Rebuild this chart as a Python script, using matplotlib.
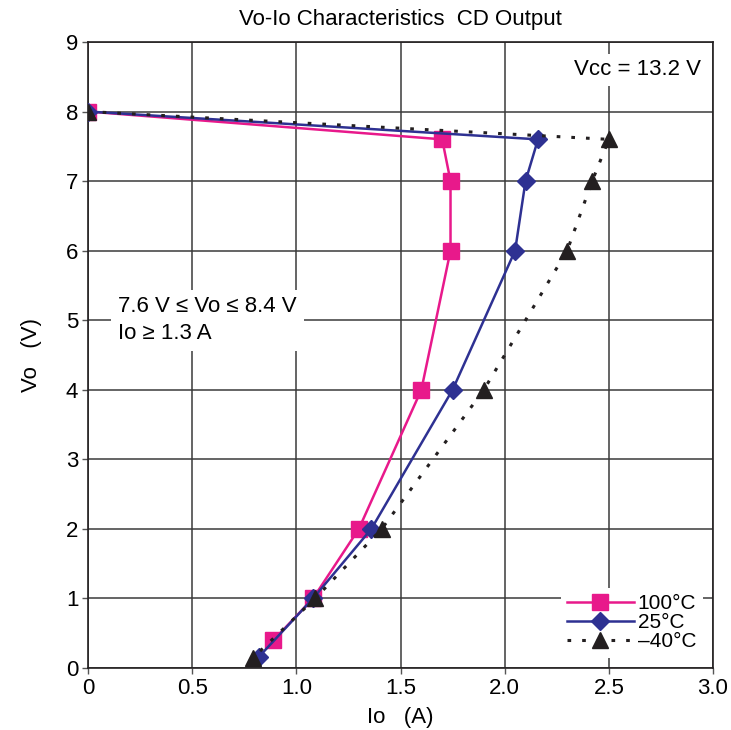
import matplotlib.pyplot as plt
import numpy as np

# Vo-Io data
io_100 = [0, 1.70, 1.74, 1.74, 1.60, 1.30, 1.08, 0.89]
vo_100 = [8, 7.6, 7, 6, 4, 2, 1, 0.4]

io_25 = [0, 2.16, 2.10, 2.05, 1.75, 1.36, 1.08, 0.82]
vo_25 = [8, 7.6, 7, 6, 4, 2, 1, 0.16]

io_m40 = [0, 2.50, 2.42, 2.30, 1.90, 1.41, 1.09, 0.79]
vo_m40 = [8, 7.6, 7, 6, 4, 2, 1, 0.14]

labels = ['100°C', '25°C', '\u201340°C']

pink = '#E8198B'
blue = '#2E3192'
black = '#231F20'

plt.rcParams['font.family'] = 'Liberation Sans'
fs = 16

fig = plt.figure(figsize=(7.31, 7.30), dpi=100)
ax = fig.add_axes([0.1204, 0.0849, 0.8550, 0.8576])

ax.plot(io_100, vo_100, color=pink, lw=1.8, marker='s', ms=12, label=labels[0], zorder=3)
ax.plot(io_25, vo_25, color=blue, lw=1.8, marker='D', ms=9.5, label=labels[1], zorder=4)
ax.plot(io_m40, vo_m40, color=black, lw=2.2, ls=(0, (1.2, 3.6)), marker='^', ms=12,
        label=labels[2], zorder=5)

ax.set_xlim(0, 3.0)
ax.set_ylim(0, 9)
ax.set_xticks(np.arange(0, 3.01, 0.5))
ax.set_xticklabels(['0', '0.5', '1.0', '1.5', '2.0', '2.5', '3.0'])
ax.set_yticks(range(0, 10))
ax.tick_params(labelsize=fs, length=4, width=1, color='#555555', direction='out', pad=3)
ax.grid(True, color='#3a3a3a', lw=1.1)
ax.set_axisbelow(True)
for s in ax.spines.values():
    s.set_color(black)
    s.set_linewidth(1.2)

ax.set_xlabel('Io   (A)', fontsize=fs, labelpad=6)
ax.set_ylabel('Vo   (V)', fontsize=fs, labelpad=17)
ax.set_title('Vo-Io Characteristics  CD Output', fontsize=fs, pad=12)

ax.text(0.144, 5.0, '7.6 V \u2264 Vo \u2264 8.4 V\nIo \u2265 1.3 A', fontsize=fs, va='center',
        ha='left', linespacing=1.35,
        bbox=dict(facecolor='white', edgecolor='none', pad=5))
ax.text(2.94, 8.6, 'Vcc = 13.2 V', fontsize=fs, va='center', ha='right',
        bbox=dict(facecolor='white', edgecolor='none', pad=4))

leg = ax.legend(loc='lower right', fontsize=15, handlelength=3.2, handletextpad=0.2,
                labelspacing=0.0, borderaxespad=0.2, frameon=True, fancybox=False,
                borderpad=0.3, bbox_to_anchor=(0.99, 0.01))
leg.get_frame().set_edgecolor('none')
leg.get_frame().set_facecolor('white')
leg.get_frame().set_alpha(1)

fig.savefig('out.png', dpi=100)
